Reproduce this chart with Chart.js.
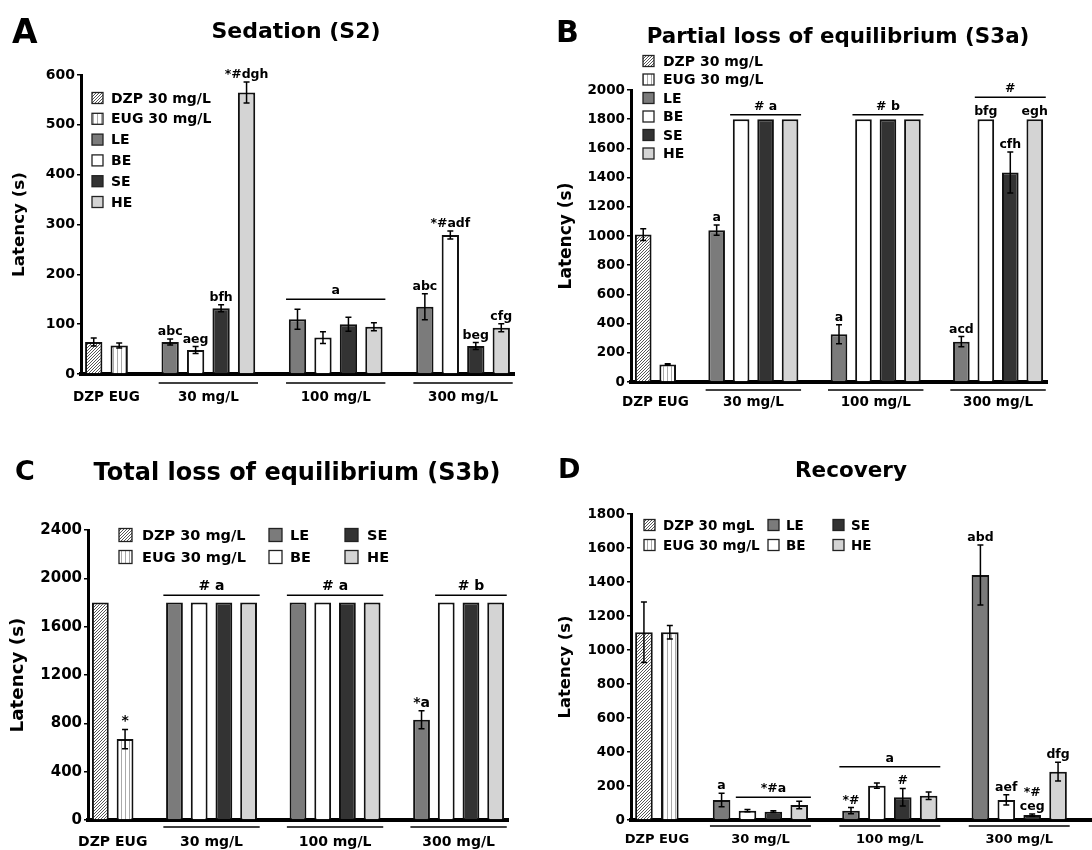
<!DOCTYPE html>
<html>
<head>
<meta charset="utf-8">
<script src="https://cdn.jsdelivr.net/npm/chart.js@4.4.1/dist/chart.umd.min.js"></script>
<style>
  html, body { margin: 0; padding: 0; background: #fff; }
  #fig { position: relative; width: 1092px; height: 850px; overflow: hidden; }
  #fig canvas { position: absolute; }
</style>
</head>
<body>
<div id="fig">
  <canvas id="cA" width="546" height="425" style="left:0;top:0"></canvas>
  <canvas id="cB" width="546" height="425" style="left:546px;top:0"></canvas>
  <canvas id="cC" width="546" height="425" style="left:0;top:425px"></canvas>
  <canvas id="cD" width="546" height="425" style="left:546px;top:425px"></canvas>
</div>
<script>
const FONT = '"DejaVu Sans", "Liberation Sans", Arial, sans-serif';

// categories
const seriesNames = ['DZP 30 mg/L', 'EUG 30 mg/L', 'LE', 'BE', 'SE', 'HE'];
const doseGroups = ['30 mg/L', '100 mg/L', '300 mg/L'];
const slotLabels = ['DZP', 'EUG', '', 'LE 30', 'BE 30', 'SE 30', 'HE 30', '', 'LE 100', 'BE 100', 'SE 100', 'HE 100', '', 'LE 300', 'BE 300', 'SE 300', 'HE 300'];
// bar order: DZP, EUG, then LE/BE/SE/HE at 30, 100 and 300 mg/L
const barSeries = [0, 1, 2, 3, 4, 5, 2, 3, 4, 5, 2, 3, 4, 5];

// A - Sedation (S2)
const sedationMean = [64, 57, 64, 48, 132, 565, 110, 73, 100, 95, 135, 279, 56, 93];
const sedationErr = [8, 5, 6, 7, 7, 21, 20, 12, 14, 8, 26, 8, 7, 8];
const sedationMarks = ['', '', 'abc', 'aeg', 'bfh', '*#dgh', '', '', '', '', 'abc', '*#adf', 'beg', 'cfg'];

// B - Partial loss of equilibrium (S3a)
const partialMean = [1010, 120, 1040, 1800, 1800, 1800, 327, 1800, 1800, 1800, 276, 1800, 1435, 1800];
const partialErr = [40, 5, 35, 0, 0, 0, 65, 0, 0, 0, 35, 0, 140, 0];
const partialMarks = ['', '', 'a', '', '', '', 'a', '', '', '', 'acd', 'bfg', 'cfh', 'egh'];

// C - Total loss of equilibrium (S3b)
const totalMean = [1800, 670, 1800, 1800, 1800, 1800, 1800, 1800, 1800, 1800, 830, 1800, 1800, 1800];
const totalErr = [0, 80, 0, 0, 0, 0, 0, 0, 0, 0, 75, 0, 0, 0];
const totalMarks = ['', '*', '', '', '', '', '', '', '', '', '*a', '', '', ''];

// D - Recovery
const recoveryMean = [1104, 1104, 118, 55, 49, 88, 55, 202, 134, 143, 1441, 118, 29, 284];
const recoveryErr = [178, 40, 40, 7, 5, 22, 18, 15, 52, 22, 177, 30, 7, 55];
const recoveryMarks = ['', '', 'a', '', '', '', '*#', '', '#', '', 'abd', 'aef', '*#\nceg', 'dfg'];

// slot index of every bar (gaps between dose groups are empty categories)
const barSlot = slotLabels.map((l, i) => l ? i : -1).filter(i => i >= 0);

Chart.defaults.font.family = FONT;
Chart.defaults.font.weight = 'bold';
Chart.defaults.color = '#000';

function makeFills() {
  const diag = document.createElement('canvas');
  diag.width = 3; diag.height = 3;
  let g = diag.getContext('2d');
  g.fillStyle = '#fff'; g.fillRect(0, 0, 3, 3);
  g.strokeStyle = '#555'; g.lineWidth = 1;
  g.beginPath();
  g.moveTo(0, 3); g.lineTo(3, 0);
  g.moveTo(-1, 1); g.lineTo(1, -1);
  g.moveTo(2, 4); g.lineTo(4, 2);
  g.stroke();
  const vert = document.createElement('canvas');
  vert.width = 4; vert.height = 4;
  g = vert.getContext('2d');
  g.fillStyle = '#fff'; g.fillRect(0, 0, 4, 4);
  g.fillStyle = '#aaaaaa'; g.fillRect(1, 0, 1, 4);
  return [g.createPattern(diag, 'repeat'), g.createPattern(vert, 'repeat'), '#7b7b7b', '#ffffff', '#333333', '#d4d4d4'];
}
const seriesFills = makeFills();

function buildDatasets(means) {
  return seriesNames.map((name, s) => {
    const data = slotLabels.map(() => null);
    means.forEach((v, i) => { if (barSeries[i] === s) data[barSlot[i]] = v; });
    return {
      label: name,
      data: data,
      backgroundColor: seriesFills[s],
      borderColor: '#111',
      borderWidth: 2,
      grouped: false,
      barPercentage: 0.68,
      categoryPercentage: 1
    };
  });
}

// draws error bars, letters, brackets, group labels, legend and titles
function makeDecor(p) {
  return {
    id: 'decor' + p.letter.text,
    afterDraw(chart) {
      const ctx = chart.ctx;
      const xs = chart.scales.x, ys = chart.scales.y;
      const area = chart.chartArea;
      const slotW = xs.getPixelForValue(1) - xs.getPixelForValue(0);
      ctx.save();
      ctx.fillStyle = '#000';
      ctx.strokeStyle = '#000';

      // error bars + significance letters
      p.means.forEach((m, i) => {
        const cx = xs.getPixelForValue(barSlot[i]);
        const e = p.errs[i];
        let top = ys.getPixelForValue(m);
        if (e > 0) {
          const yt = ys.getPixelForValue(m + e);
          const yb = ys.getPixelForValue(m - e);
          ctx.lineWidth = 1.5;
          ctx.beginPath();
          ctx.moveTo(cx, yt); ctx.lineTo(cx, yb);
          ctx.moveTo(cx - 3, yt); ctx.lineTo(cx + 3, yt);
          ctx.moveTo(cx - 3, yb); ctx.lineTo(cx + 3, yb);
          ctx.stroke();
          top = yt;
        }
        if (p.marks[i]) {
          ctx.font = 'bold ' + p.markSize + 'px ' + FONT;
          ctx.textAlign = 'center';
          ctx.textBaseline = 'alphabetic';
          const lines = p.marks[i].split('\n');
          lines.forEach((ln, k) => {
            ctx.fillText(ln, cx, top - 4 - (lines.length - 1 - k) * (p.markSize + 1));
          });
        }
      });

      // brackets over groups
      p.brackets.forEach(b => {
        const x1 = xs.getPixelForValue(b.from) - 0.45 * slotW;
        const x2 = xs.getPixelForValue(b.to) + 0.45 * slotW;
        const yy = ys.getPixelForValue(b.value);
        ctx.lineWidth = 1.5;
        ctx.beginPath(); ctx.moveTo(x1, yy); ctx.lineTo(x2, yy); ctx.stroke();
        ctx.font = 'bold ' + p.markSize + 'px ' + FONT;
        ctx.textAlign = 'center';
        ctx.textBaseline = 'alphabetic';
        ctx.fillText(b.text, (x1 + x2) / 2, yy - 5);
      });

      // x labels under the axis
      ctx.font = 'bold ' + p.below.size + 'px ' + FONT;
      ctx.textAlign = 'center';
      ctx.textBaseline = 'middle';
      const c0 = (xs.getPixelForValue(0) + xs.getPixelForValue(1)) / 2;
      ctx.fillText(slotLabels[0] + ' ' + slotLabels[1], c0, area.bottom + p.below.labelDy);
      doseGroups.forEach((g, k) => {
        const s0 = 3 + k * 5, s1 = s0 + 3;
        const x1 = xs.getPixelForValue(s0) - 0.45 * slotW;
        const x2 = xs.getPixelForValue(s1) + 0.45 * slotW;
        const yy = area.bottom + p.below.lineDy;
        ctx.lineWidth = 1.5;
        ctx.beginPath(); ctx.moveTo(x1, yy); ctx.lineTo(x2, yy); ctx.stroke();
        ctx.fillText(g, (x1 + x2) / 2, area.bottom + p.below.labelDy);
      });

      if (p.extendAxis) {
        ctx.lineWidth = 4;
        ctx.beginPath(); ctx.moveTo(area.right, area.bottom); ctx.lineTo(chart.width, area.bottom); ctx.stroke();
      }

      // legend
      const lg = p.legend;
      const labels = lg.labels || seriesNames;
      labels.forEach((name, i) => {
        const col = Math.floor(i / lg.rows.length);
        const row = i % lg.rows.length;
        const cy = lg.rows[row];
        const sx = lg.cols[col][0];
        ctx.fillStyle = seriesFills[i];
        ctx.fillRect(sx, cy - lg.box / 2, lg.box, lg.box);
        ctx.lineWidth = 1.3;
        ctx.strokeStyle = '#222';
        ctx.strokeRect(sx, cy - lg.box / 2, lg.box, lg.box);
        ctx.fillStyle = '#000';
        ctx.font = 'bold ' + lg.size + 'px ' + FONT;
        ctx.textAlign = 'left';
        ctx.textBaseline = 'middle';
        ctx.fillText(name, lg.cols[col][1], cy + 1);
      });

      // panel title and letter
      ctx.fillStyle = '#000';
      ctx.textBaseline = 'alphabetic';
      ctx.textAlign = 'center';
      ctx.font = 'bold ' + p.title.size + 'px ' + FONT;
      ctx.fillText(p.title.text, p.title.x, p.title.y);
      ctx.textAlign = 'left';
      ctx.font = 'bold ' + p.letter.size + 'px ' + FONT;
      ctx.fillText(p.letter.text, p.letter.x, p.letter.y);
      ctx.restore();
    }
  };
}

function makePanel(canvasId, p) {
  const ctx = document.getElementById(canvasId).getContext('2d');
  return new Chart(ctx, {
    type: 'bar',
    data: { labels: slotLabels, datasets: buildDatasets(p.means) },
    options: {
      responsive: false,
      animation: false,
      events: [],
      layout: { padding: { top: p.area.top, right: 546 - p.area.right, bottom: 0, left: 0 } },
      plugins: { legend: { display: false }, tooltip: { enabled: false } },
      scales: {
        x: {
          type: 'category',
          offset: true,
          z: 1,
          ticks: { display: false },
          grid: { display: false },
          border: { color: '#000', width: 4 },
          afterFit: s => { s.height = 425 - p.area.bottom; }
        },
        y: {
          min: 0,
          max: p.yMax,
          z: 1,
          ticks: {
            stepSize: p.yStep,
            color: '#000',
            padding: 2,
            format: { useGrouping: false },
            font: { size: p.tickSize, weight: 'bold' }
          },
          grid: { drawOnChartArea: false, drawTicks: true, tickLength: 4, color: '#000', lineWidth: 1.5 },
          border: { color: '#000', width: 3 },
          title: {
            display: true,
            text: 'Latency (s)',
            color: '#000',
            font: { size: p.yTitle.size, weight: 'bold' },
            padding: { top: p.yTitle.pad, bottom: 0 }
          },
          afterFit: s => { s.width = p.area.left; }
        }
      }
    },
    plugins: [makeDecor(p)]
  });
}

makePanel('cA', {
  means: sedationMean, errs: sedationErr, marks: sedationMarks,
  yMax: 600, yStep: 100, tickSize: 14,
  area: { left: 81, right: 514, top: 75, bottom: 374 },
  yTitle: { size: 16.7, pad: 10 },
  markSize: 12.5,
  brackets: [{ from: 8, to: 11, value: 150, text: 'a' }],
  below: { lineDy: 9, labelDy: 23, size: 13.5 },
  legend: { cols: [[92, 111]], rows: [98, 118.8, 139.6, 160.4, 181.2, 202], box: 11, size: 14 },
  title: { text: 'Sedation (S2)', x: 296, y: 38, size: 22 },
  letter: { text: 'A', x: 12, y: 43, size: 33 }
});

makePanel('cB', {
  means: partialMean, errs: partialErr, marks: partialMarks,
  yMax: 2000, yStep: 200, tickSize: 13.5,
  area: { left: 85, right: 501, top: 90, bottom: 382 },
  yTitle: { size: 17, pad: 10 },
  markSize: 12.5,
  brackets: [
    { from: 4, to: 6, value: 1830, text: '# a' },
    { from: 9, to: 11, value: 1830, text: '# b' },
    { from: 14, to: 16, value: 1950, text: '#' }
  ],
  below: { lineDy: 8, labelDy: 20, size: 13.5 },
  legend: { cols: [[97, 117]], rows: [61, 79.5, 98, 116.5, 135, 153.5], box: 11, size: 14 },
  title: { text: 'Partial loss of equilibrium (S3a)', x: 292, y: 43, size: 21.4 },
  letter: { text: 'B', x: 10, y: 42, size: 30 }
});

makePanel('cC', {
  means: totalMean, errs: totalErr, marks: totalMarks,
  yMax: 2400, yStep: 400, tickSize: 15,
  area: { left: 88, right: 508, top: 105, bottom: 395 },
  yTitle: { size: 18.3, pad: 7 },
  markSize: 14,
  brackets: [
    { from: 3, to: 6, value: 1860, text: '# a' },
    { from: 8, to: 11, value: 1860, text: '# a' },
    { from: 14, to: 16, value: 1860, text: '# b' }
  ],
  below: { lineDy: 7, labelDy: 22, size: 14 },
  legend: { cols: [[119, 142], [269, 290], [345, 367]], rows: [110, 132], box: 13, size: 14.5 },
  title: { text: 'Total loss of equilibrium (S3b)', x: 297, y: 55, size: 24 },
  letter: { text: 'C', x: 15, y: 55, size: 27 }
});

makePanel('cD', {
  means: recoveryMean, errs: recoveryErr, marks: recoveryMarks,
  yMax: 1800, yStep: 200, tickSize: 13.5,
  area: { left: 85, right: 525, top: 89, bottom: 395 },
  yTitle: { size: 16.4, pad: 10 },
  markSize: 12.5,
  brackets: [
    { from: 4, to: 6, value: 134, text: '*#a' },
    { from: 8, to: 11, value: 313, text: 'a' }
  ],
  below: { lineDy: 6, labelDy: 20, size: 13 },
  extendAxis: true,
  legend: {
    labels: ['DZP 30 mgL', 'EUG 30 mg/L', 'LE', 'BE', 'SE', 'HE'],
    cols: [[98, 117], [222, 240], [287, 305]], rows: [100, 120], box: 11, size: 13.5
  },
  title: { text: 'Recovery', x: 305, y: 52, size: 21.5 },
  letter: { text: 'D', x: 12, y: 53, size: 27 }
});
</script>
</body>
</html>
